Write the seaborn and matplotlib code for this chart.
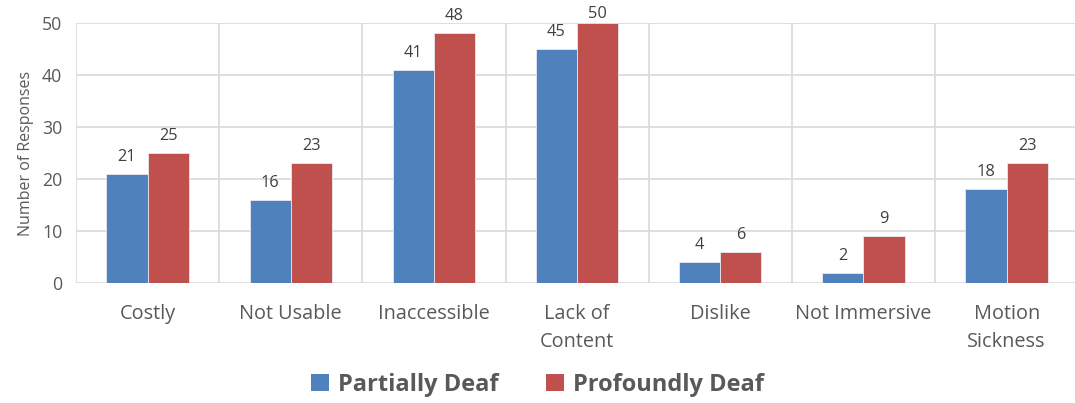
import matplotlib
matplotlib.use("Agg")
import matplotlib.pyplot as plt
import seaborn as sns
import pandas as pd
from matplotlib.patches import Patch

categories = ["Costly", "Not Usable", "Inaccessible", "Lack of\nContent",
              "Dislike", "Not Immersive", "Motion\nSickness"]
partially_deaf = [21, 16, 41, 45, 4, 2, 18]
profoundly_deaf = [25, 23, 48, 50, 6, 9, 23]
series_names = ["Partially Deaf", "Profoundly Deaf"]
y_ticks = [0, 10, 20, 30, 40, 50]

colors = ["#4F81BD", "#C0504D"]
text_gray = "#595959"
grid_gray = "#D9D9D9"

df = pd.DataFrame({
    "category": categories * 2,
    "value": partially_deaf + profoundly_deaf,
    "group": [series_names[0]] * len(categories) + [series_names[1]] * len(categories),
})

sns.set_style("white")
plt.rcParams["font.family"] = ["Open Sans", "DejaVu Sans"]

fig = plt.figure(figsize=(10.75, 4.03), dpi=100)
ax = fig.add_axes([0.0707, 0.298, 0.9293 + 0.003, 0.645])

sns.barplot(data=df, x="category", y="value", hue="group", order=categories,
            hue_order=series_names, palette=colors, width=0.575,
            saturation=1, edgecolor="#E8E8F0", linewidth=0.6, ax=ax, legend=False)

n = len(categories)
y_max = y_ticks[-1]
ax.set_xlim(-0.5, n - 0.5)
ax.set_ylim(0, y_max)
ax.set_yticks(y_ticks)

# horizontal grid and category separators
for y in y_ticks:
    ax.axhline(y, color=grid_gray, lw=1.2, zorder=0)
for i in range(n + 1):
    ax.axvline(i - 0.5, color=grid_gray, lw=1.2, zorder=0)

# value labels above each bar; the one touching the top sits a little lower
for container in ax.containers:
    for bar in container:
        h = bar.get_height()
        off = 9 if h >= y_max else 17
        ax.annotate(f"{h:.0f}", (bar.get_x() + bar.get_width() / 2, h),
                    xytext=(0, off), textcoords="offset pixels",
                    ha="center", va="center", fontsize=11.8, color="#404040",
                    annotation_clip=False)

for s in ax.spines.values():
    s.set_visible(False)
ax.tick_params(axis="both", length=0, colors=text_gray)
ax.tick_params(axis="x", pad=15, labelsize=14.3)
ax.tick_params(axis="y", pad=10, labelsize=12.8)
for lbl in ax.get_xticklabels():
    lbl.set_linespacing(1.55)
ax.set_xlabel("")
ax.set_ylabel("Number of Responses", fontsize=11.5, color=text_gray, labelpad=6)

handles = [Patch(facecolor=c, edgecolor="none") for c in colors]
fig.legend(handles, series_names, loc="center", bbox_to_anchor=(0.5, 0.045),
           ncol=2, frameon=False, handlelength=0.75, handleheight=0.75,
           handletextpad=0.4, columnspacing=2.0,
           prop={"weight": "bold", "size": 17}, labelcolor=text_gray)

fig.savefig("out.png", dpi=100)
